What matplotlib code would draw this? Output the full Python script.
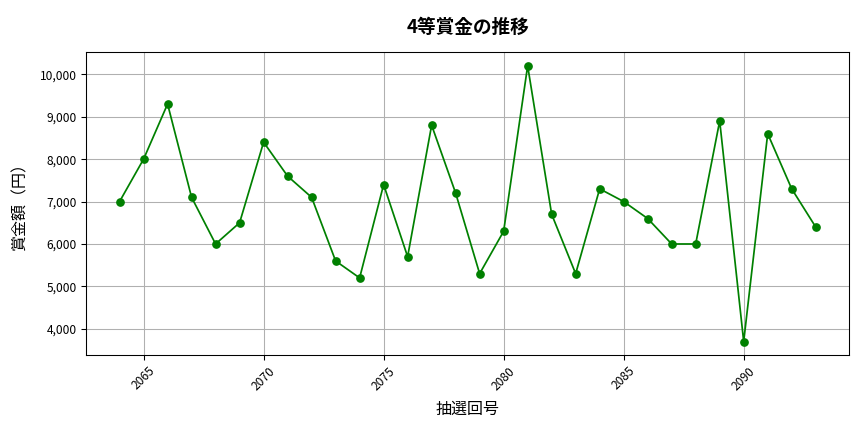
import matplotlib
matplotlib.use("Agg")
import matplotlib.pyplot as plt
from matplotlib.ticker import FuncFormatter

plt.rcParams['font.family'] = ['Noto Sans CJK JP', 'DejaVu Sans']

draws = list(range(2064, 2094))
prizes = [7000, 8000, 9300, 7100, 6000, 6500, 8400, 7600, 7100, 5600,
          5200, 7400, 5700, 8800, 7200, 5300, 6300, 10200, 6700, 5300,
          7300, 7000, 6600, 6000, 6000, 8900, 3700, 8600, 7300, 6400]

title = "4等賞金の推移"
xlabel = "抽選回号"
ylabel = "賞金額（円）"

fig = plt.figure(figsize=(9, 4.5), dpi=96)
ax = fig.add_axes([0.0995, 0.178, 0.8835, 0.702])
ax.plot(draws, prizes, marker='o', color='green', linewidth=1.3, markersize=5.5)
ax.set_title(title, fontsize=14, fontweight='bold', pad=14)
ax.set_xlabel(xlabel, fontsize=12, labelpad=6)
ax.set_ylabel(ylabel, fontsize=12, labelpad=8)
ax.grid(True, color='#b0b0b0', linewidth=0.8)
ax.set_xlim(2062.6, 2094.4)
ax.set_ylim(3380, 10530)
ax.set_xticks([2065, 2070, 2075, 2080, 2085, 2090])
ax.yaxis.set_major_formatter(FuncFormatter(lambda v, p: f"{int(v):,}"))
plt.setp(ax.get_xticklabels(), rotation=45)
ax.tick_params(labelsize=9)
fig.savefig("out.png", dpi=96)
